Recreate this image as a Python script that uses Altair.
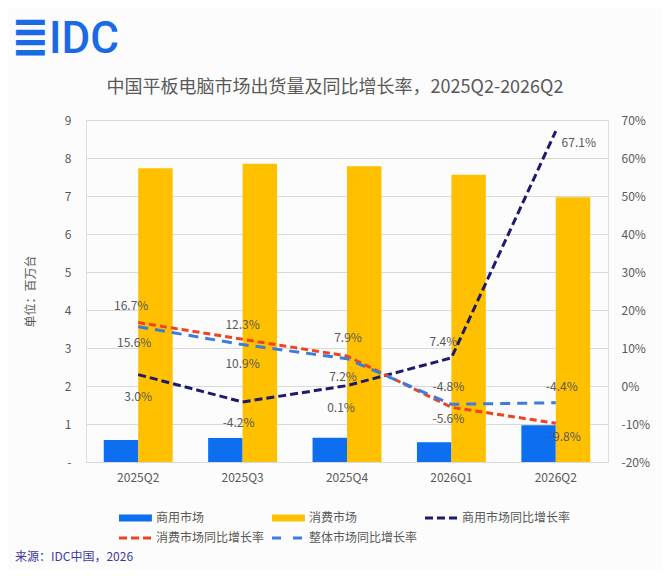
import altair as alt
import pandas as pd

# ---------------- data ----------------
quarters = ['2025Q2', '2025Q3', '2025Q4', '2026Q1', '2026Q2']
commercial = [0.58, 0.63, 0.64, 0.52, 0.97]          # 百万台
consumer = [7.73, 7.85, 7.78, 7.56, 6.97]            # 百万台
commercial_yoy = [3.0, -4.2, 0.1, 7.4, 67.1]         # %
consumer_yoy = [16.7, 12.3, 7.9, -5.6, -9.8]         # %
total_yoy = [15.6, 10.9, 7.2, -4.8, -4.4]            # %

bar_series = ['商用市场', '消费市场']
line_series = ['商用市场同比增长率', '消费市场同比增长率', '整体市场同比增长率']
all_series = bar_series + line_series

title_text = '中国平板电脑市场出货量及同比增长率，2025Q2-2026Q2'
source_text = '来源：IDC中国，2026'

# ---------------- layout / style ----------------
colors = ['#0D6EF0', '#FFC000', '#1E1B6E', '#EE4422', '#3A7DDB']
dashes = [[8, 4], [7, 4], [10, 7]]
# label offsets (dx, dy) per line series, per quarter
label_dx = [[0, -4, -6, -8, 23], [-7, 0, 1, -3, 9], [-4, 0, -4, -3, 6]]
label_dy = [[22, 21, 22, -16, 12], [-17, -14, -18, 12, 14], [16, 19, 18, -17, -16]]

FONT = 'Noto Sans CJK SC'
GRAY = '#595959'

bars_df = pd.DataFrame({
    'quarter': quarters * 2,
    'series': [bar_series[0]] * 5 + [bar_series[1]] * 5,
    'value': commercial + consumer,
})

rows = []
for si, (name, vals) in enumerate(zip(line_series, [commercial_yoy, consumer_yoy, total_yoy])):
    for qi, q in enumerate(quarters):
        rows.append({'quarter': q, 'series': name, 'pct': vals[qi],
                     'label': f'{vals[qi]:.1f}%',
                     'ldx': label_dx[si][qi], 'ldy': label_dy[si][qi]})
lines_df = pd.DataFrame(rows)

x_enc = alt.X('quarter:N', sort=quarters,
              scale=alt.Scale(domain=quarters, paddingInner=0.34, paddingOuter=0.17),
              axis=alt.Axis(title=None, labelAngle=0, domain=False, ticks=False,
                            labelPadding=10, labelColor=GRAY, labelFontSize=12, labelFont=FONT))

legend = alt.Legend(
    title=None, orient='none', legendX=34, legendY=392, columns=3, direction='horizontal',
    symbolType='M-1,-0.5H3.7V0.5H-1Z', symbolSize=196,
    labelOffset=24, columnPadding=1, rowPadding=8,
    labelFontSize=12, labelColor=GRAY, labelFont=FONT,
)
color_enc = alt.Color('series:N', scale=alt.Scale(domain=all_series, range=colors), legend=legend)

# per-entry legend symbols (bars = solid swatch, rates = dashed stroke), applied to the compiled Vega
is_bar = "(datum.value == '商用市场' || datum.value == '消费市场')"
legend_patch = [{
    'op': 'add', 'path': '/legends/0/encode',
    'value': {'symbols': {'update': {
        'shape': {'signal': f"{is_bar} ? 'M-1,-0.5H3.7V0.5H-1Z' : 'M-1,0H3.7'"},
        'fill': {'signal': f"{is_bar} ? scale('color', datum.value) : 'transparent'"},
        'stroke': {'signal': "scale('color', datum.value)"},
        'strokeWidth': {'signal': f"{is_bar} ? 0 : 3"},
        'strokeDash': {'signal': "datum.value == '整体市场同比增长率' ? [9, 12] : [8, 4]"},
        'opacity': {'value': 1},
    }}},
}]

bars = alt.Chart(bars_df).mark_bar().encode(
    x=x_enc,
    xOffset=alt.XOffset('series:N', scale=alt.Scale(domain=bar_series, paddingInner=0, paddingOuter=0)),
    y=alt.Y('value:Q', scale=alt.Scale(domain=[0, 9]),
            axis=alt.Axis(title='单位：百万台', values=list(range(10)),
                          labelExpr="datum.value == 0 ? '-' : datum.label",
                          domain=False, ticks=False, labelPadding=15,
                          labelColor=GRAY, labelFontSize=12, labelFont=FONT,
                          titleColor=GRAY, titleFontSize=12, titleFontWeight='normal',
                          titleFont=FONT, titlePadding=27,
                          grid=True, gridColor='#D9D9D9', gridWidth=1)),
    color=color_enc,
)

y_pct = alt.Y('pct:Q', scale=alt.Scale(domain=[-20, 70]),
              axis=alt.Axis(title=None, orient='right', values=list(range(-20, 80, 10)),
                            labelExpr="datum.value + '%'", domain=False, ticks=False,
                            labelPadding=13, labelColor=GRAY, labelFontSize=12,
                            labelFont=FONT, grid=False))

lines = alt.Chart(lines_df).mark_line(strokeWidth=3).encode(
    x=x_enc,
    y=y_pct,
    color=color_enc,
    strokeDash=alt.StrokeDash('series:N', scale=alt.Scale(domain=line_series, range=dashes), legend=None),
)

labels = alt.Chart(lines_df).mark_text(
    fontSize=12, font=FONT, color=GRAY,
    dx=alt.expr('datum.ldx'), dy=alt.expr('datum.ldy'),
).encode(x=x_enc, y=y_pct, text='label:N')

pct_layer = alt.layer(lines, labels)

logo_icon = alt.Chart(pd.DataFrame({'t': ['≣']})).mark_text(
    align='left', baseline='alphabetic', fontSize=46, font='DejaVu Sans', fontWeight='bold', color='#1A6AE6'
).encode(x=alt.value(-75), y=alt.value(-68), text='t:N')

logo = alt.Chart(pd.DataFrame({'t': ['IDC']})).mark_text(
    align='left', baseline='alphabetic', fontSize=44, font='Roboto', fontWeight=500, color='#1A6AE6'
).encode(x=alt.value(-37), y=alt.value(-67), text='t:N')

title = alt.Chart(pd.DataFrame({'t': [title_text]})).mark_text(
    align='center', baseline='middle', fontSize=18, font=FONT, color=GRAY
).encode(x=alt.value(249), y=alt.value(-32), text='t:N')

source = alt.Chart(pd.DataFrame({'t': [source_text]})).mark_text(
    align='left', baseline='middle', fontSize=12, font=FONT, color='#3F3A9E'
).encode(x=alt.value(-71), y=alt.value(437), text='t:N')

chart = alt.layer(bars, pct_layer, logo_icon, logo, title, source).resolve_scale(
    y='independent'
).properties(
    width=522, height=342,
    autosize=alt.AutoSizeParams(type='none'),
    padding={'left': 78, 'top': 112, 'right': 54, 'bottom': 108},
    background='#FCFCFC',
    usermeta={'embedOptions': {'patch': legend_patch}},
).configure_view(stroke=None).configure(font=FONT)

chart.save('out.html', embed_options={'renderer': 'svg', 'actions': False})
